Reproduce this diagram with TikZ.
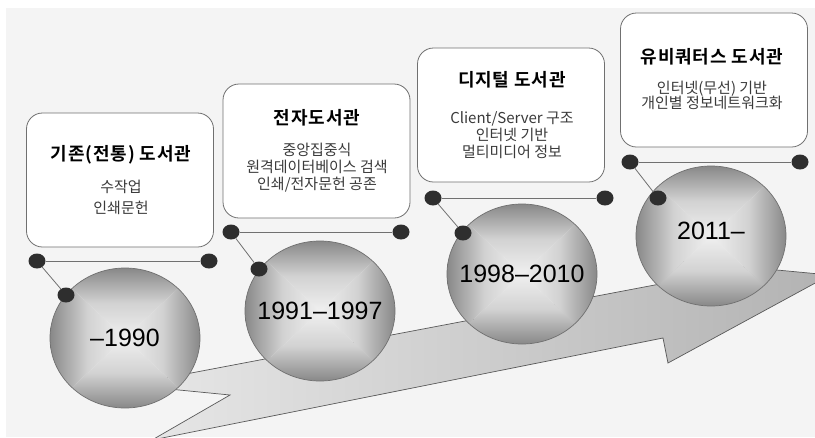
\documentclass[tikz,border=0pt]{standalone}
\usepackage{fontspec}
\setmainfont{Liberation Sans}
\newfontfamily\kr{Noto Sans CJK KR}
\newfontfamily\krb{Noto Sans CJK KR Bold}[LetterSpace=5]
\usetikzlibrary{shapes.geometric}
\definecolor{bgc}{HTML}{F4F4F4}
\definecolor{edgec}{HTML}{707070}
\definecolor{dotc}{HTML}{2E2E2E}
\definecolor{bodyc}{HTML}{3A3A3A}
\definecolor{balledge}{HTML}{888888}
\definecolor{ballmid}{HTML}{D2D2D2}
\definecolor{ballcent}{HTML}{F0F0F0}
\tikzset{
  sphere/.style={ellipse, minimum width=150pt, minimum height=140pt, draw=edgec, line width=0.7pt, inner sep=0pt, font=\fontsize{25}{25}\selectfont},
  infobox/.style={rectangle, rounded corners=16pt, draw=edgec, line width=0.8pt, fill=white, minimum width=187pt, minimum height=134pt},
  ttl/.style={font=\krb\fontsize{18}{20}\selectfont, text=black},
  bodytxt/.style={font=\kr\fontsize{15}{17}\selectfont, text=bodyc, align=center},
  dot/.style={ellipse, fill=dotc, minimum width=17pt, minimum height=15pt, inner sep=0pt},
  link/.style={draw=edgec, line width=0.8pt}
}
\newcommand{\ballshade}[2]{%
  \begin{scope}[shift={(#1,#2)}]
    \clip (0,0) ellipse [x radius=75, y radius=70];
    \shade[top color=balledge, bottom color=ballcent, middle color=ballmid] (-75,-70) -- (75,-70) -- (0,0) -- cycle;
    \shade[top color=ballcent, bottom color=balledge, middle color=ballmid] (-75,70) -- (75,70) -- (0,0) -- cycle;
    \shade[left color=balledge, right color=ballcent, middle color=ballmid] (-75,-70) -- (-75,70) -- (0,0) -- cycle;
    \shade[left color=ballcent, right color=balledge, middle color=ballmid] (75,-70) -- (75,70) -- (0,0) -- cycle;
  \end{scope}}
\begin{document}
\begin{tikzpicture}[x=1pt,y=-1pt]
\useasboundingbox (0,0) rectangle (815,437);
\clip (0,0) rectangle (815,437);
\fill[bgc] (6,8) rectangle (815,437);
% arrow
\draw[draw=black!65, line width=0.7pt, left color=black!9, right color=black!30]
  (152,440) -- (230,395) -- (128,385) -- (660,284) -- (660,259) -- (830,275)
  -- (668,363) -- (663,338) -- cycle;
% spheres
\ballshade{125}{338}
\ballshade{320}{311}
\ballshade{522}{274}
\ballshade{711}{236}
\node[sphere] (s1) at (125,338) {\makebox[0pt]{–1990}};
\node[sphere] (s2) at (320,311) {\makebox[0pt]{1991–1997}};
\node[sphere] (s3) at (522,274) {\makebox[0pt]{1998–2010}};
\node[sphere] (s4) at (711,236) {\makebox[0pt]{\raisebox{10pt}{2011–}}};
% boxes
\node[infobox] (b1) at (120,180) {};
\node[infobox] (b2) at (316.5,151) {};
\node[infobox] (b3) at (511,115) {};
\node[infobox] (b4) at (714,80) {};
\node[ttl] (t1) at (121,155) {기존(전통) 도서관};
\node[bodytxt, font=\kr\fontsize{15}{21}\selectfont] (d1) at (121,197.5) {수작업\\인쇄문헌};
\node[ttl] (t2) at (317,118) {전자도서관};
\node[bodytxt] (d2) at (317,167.5) {중앙집중식\\원격데이터베이스 검색\\인쇄/전자문헌 공존};
\node[ttl] (t3) at (512,80) {디지털 도서관};
\node[bodytxt] (d3) at (512,135) {Client/Server 구조\\인터넷 기반\\멀티미디어 정보};
\node[ttl] (t4) at (712,57) {유비쿼터스 도서관};
\node[bodytxt, font=\kr\fontsize{15}{15.5}\selectfont] (d4) at (712,95.5) {인터넷(무선) 기반\\개인별 정보네트워크화};
% connectors
\node[dot] (l1) at (37,261) {};
\node[dot] (r1) at (209,261) {};
\node[dot] (p1) at (66,295) {};
\node[dot] (l2) at (231,232) {};
\node[dot] (r2) at (401,232) {};
\node[dot] (p2) at (259,269) {};
\node[dot] (l3) at (433,198) {};
\node[dot] (r3) at (605,198) {};
\node[dot] (p3) at (463,233) {};
\node[dot] (l4) at (630,162) {};
\node[dot] (r4) at (800,162) {};
\node[dot] (p4) at (658,198) {};
\foreach \i in {1,2,3,4}{
  \draw[link] (l\i) -- (r\i);
  \draw[link] (l\i) -- (p\i);
}
\end{tikzpicture}
\end{document}
